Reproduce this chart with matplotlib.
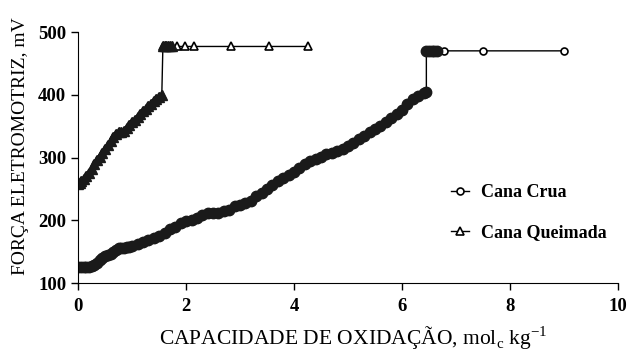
import matplotlib
matplotlib.use("Agg")
import matplotlib.pyplot as plt

plt.rcParams['font.family'] = ['Liberation Serif', 'DejaVu Serif']
plt.rcParams['mathtext.fontset'] = 'custom'
plt.rcParams['mathtext.rm'] = 'Liberation Serif'

# Cana Crua (circles)
crua_x = [0.0, 0.05, 0.1, 0.15, 0.2, 0.25, 0.3, 0.35, 0.4, 0.45, 0.5, 0.55, 0.6, 0.65,
          0.7, 0.75, 0.8, 0.85, 0.9, 0.95, 1.0, 1.1, 1.2, 1.3, 1.4, 1.5, 1.6, 1.7, 1.8,
          1.9, 2.0, 2.1, 2.2, 2.3, 2.4, 2.5, 2.6, 2.7, 2.8, 2.9, 3.0, 3.1, 3.2, 3.3, 3.4,
          3.5, 3.6, 3.7, 3.8, 3.9, 4.0, 4.1, 4.2, 4.3, 4.4, 4.5, 4.6, 4.7, 4.8, 4.9, 5.0,
          5.1, 5.2, 5.3, 5.4, 5.5, 5.6, 5.7, 5.8, 5.9, 6.0, 6.1, 6.2, 6.3, 6.4, 6.45,
          6.45, 6.5, 6.55, 6.6, 6.65, 6.77, 7.5, 9.0]
crua_y = [125, 125, 125, 125, 126, 127, 129, 132, 137, 140, 143, 145, 147, 150,
          153, 155, 155, 156, 157, 158, 159, 162, 166, 169, 172, 175, 180, 186, 190,
          195, 199, 201, 204, 209, 212, 212, 212, 214, 217, 222, 225, 227, 231, 238, 244,
          250, 256, 262, 267, 272, 277, 283, 289, 294, 298, 301, 305, 308, 311, 314, 318,
          323, 329, 335, 341, 346, 351, 357, 363, 369, 376, 386, 393, 398, 403, 405,
          470, 470, 470, 470, 470, 470, 470, 470]

# Cana Queimada (triangles)
queim_x = [0.0, 0.03, 0.06, 0.1, 0.15, 0.2, 0.25, 0.3, 0.35, 0.4, 0.45, 0.5, 0.55, 0.6,
           0.65, 0.7, 0.75, 0.8, 0.85, 0.9, 0.95, 1.0, 1.05, 1.1, 1.15, 1.2, 1.25, 1.3,
           1.35, 1.4, 1.45, 1.5, 1.55, 1.57, 1.6, 1.63, 1.67, 1.7, 1.73,
           1.83, 1.98, 2.14, 2.83, 3.54, 4.25]
queim_y = [258, 260, 262, 265, 270, 276, 282, 290, 296, 301, 307, 314, 320, 327,
           333, 338, 340, 341, 343, 347, 352, 356, 360, 364, 369, 374, 378, 382,
           386, 390, 393, 396, 400, 477, 477, 477, 477, 477, 477,
           477, 477, 477, 477, 477, 477]

n_open_crua = 3
n_open_queim = 6

fig = plt.figure(figsize=(6.3, 3.52), dpi=100)
ax = fig.add_axes([0.124, 0.196, 0.857, 0.713])

# lines with open markers
ax.plot(crua_x, crua_y, color='black', lw=1, marker='o', ms=5, mfc='white',
        mec='black', mew=1.2, label='Cana Crua')
ax.plot(queim_x, queim_y, color='black', lw=1, marker='^', ms=6, mfc='white',
        mec='black', mew=1.2, label='Cana Queimada')
# dense parts look solid
ax.plot(crua_x[:-n_open_crua], crua_y[:-n_open_crua], 'o', ms=7.5, color='#1a1a1a')
ax.plot(queim_x[:-n_open_queim], queim_y[:-n_open_queim], '^', ms=7.5, color='#1a1a1a')

ax.set_xlim(0, 10)
ax.set_ylim(100, 500)
ax.set_xticks([0, 2, 4, 6, 8, 10])
ax.set_yticks([100, 200, 300, 400, 500])
ax.spines['top'].set_visible(False)
ax.spines['right'].set_visible(False)
ax.tick_params(direction='out', length=5, width=1, labelsize=13.5)
ax.tick_params(axis='x', pad=6)
for lab in ax.get_xticklabels() + ax.get_yticklabels():
    lab.set_fontweight('bold')

ax.set_xlabel(r'CAPACIDADE DE OXIDAÇÃO, mol$_\mathrm{c}$ kg$^{-1}$', fontsize=15.5)
ax.set_ylabel('FORÇA ELETROMOTRIZ, mV', fontsize=14)
ax.xaxis.set_label_coords(0.51, -0.245)
ax.yaxis.set_label_coords(-0.106, 0.546)
ax.xaxis.label.set_va('baseline')
ax.yaxis.label.set_va('center')

ax.legend(loc='center left', bbox_to_anchor=(0.66, 0.28), frameon=False,
          prop={'weight': 'bold', 'size': 13}, handlelength=1.0,
          labelspacing=1.3, handletextpad=0.7)

fig.savefig('out.png', dpi=100)
